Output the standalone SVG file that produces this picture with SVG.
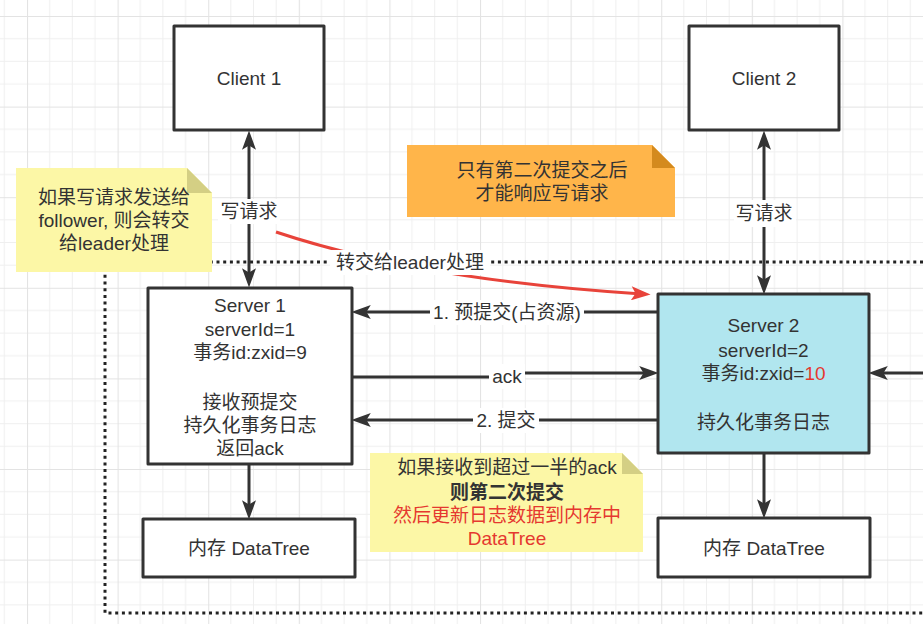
<svg xmlns="http://www.w3.org/2000/svg" width="923" height="624" viewBox="0 0 923 624">
  <style>
    text { font-family: "Liberation Sans", "Noto Sans CJK SC", sans-serif; font-size: 19px; fill: #333; text-anchor: middle; dominant-baseline: central; }
    .box { fill: #fff; stroke: #333; stroke-width: 3; stroke-linejoin: round; }
    .edge { fill: none; stroke: #333; stroke-width: 3; }
    .lblbg { fill: #fff; }
    .red { fill: #e5382f; }
    .note-y { fill: #fcf7a6; }
    .fold-y { fill: #d4cf84; }
    .note-o { fill: #ffb54a; }
    .fold-o { fill: #d48a1e; }
  </style>
  <defs>
    <pattern id="grid" patternUnits="userSpaceOnUse" x="27" y="16" width="90.6" height="90.6">
      <path d="M22.65,0V90.6M45.3,0V90.6M67.95,0V90.6M0,22.65H90.6M0,45.3H90.6M0,67.95H90.6" stroke="#efefef" stroke-width="1" fill="none"/>
      <path d="M0.5,0V90.6M0,0.5H90.6" stroke="#e3e3e3" stroke-width="1.2" fill="none"/>
    </pattern>
    <marker id="arr" markerUnits="userSpaceOnUse" markerWidth="20" markerHeight="14" refX="10" refY="6.5" orient="auto-start-reverse" viewBox="0 0 18 13">
      <path d="M0,0 L18,6.5 L0,13 L4,6.5 Z" fill="#333"/>
    </marker>
    <marker id="arr-red" markerUnits="userSpaceOnUse" markerWidth="20" markerHeight="14" refX="10" refY="6.5" orient="auto" viewBox="0 0 18 13">
      <path d="M0,0 L18,6.5 L0,13 L4,6.5 Z" fill="#e8433a"/>
    </marker>
  </defs>

  <rect x="0" y="0" width="923" height="624" fill="#fff"/>
  <rect x="0" y="0" width="923" height="624" fill="url(#grid)"/>

  <g id="container">
    <path d="M923,262 H105 V613 H923" fill="none" stroke="#222" stroke-width="3" stroke-dasharray="3 3.7"/>
  </g>

  <g id="connectors">
    <path class="edge" d="M249,139 V279" marker-start="url(#arr)" marker-end="url(#arr)"/>
    <rect class="lblbg" x="218" y="199" width="62" height="25"/>
    <text x="249" y="211">写请求</text>

    <path class="edge" d="M764,139 V286" marker-start="url(#arr)" marker-end="url(#arr)"/>
    <rect class="lblbg" x="734" y="200" width="62" height="27"/>
    <text x="764" y="213">写请求</text>

    <path class="edge" d="M249,464 V511" marker-end="url(#arr)"/>
    <path class="edge" d="M764,453 V510" marker-end="url(#arr)"/>
    <path class="edge" d="M923,373 H877" marker-end="url(#arr)"/>

    <path class="edge" d="M658,312 H360" marker-end="url(#arr)"/>
    <rect class="lblbg" x="430" y="300" width="154" height="25"/>
    <text x="507" y="312">1. 预提交(占资源)</text>

    <path class="edge" d="M352,377 H507 V373 H650" marker-end="url(#arr)"/>
    <rect class="lblbg" x="489" y="364" width="36" height="25"/>
    <text x="507" y="376">ack</text>

    <path class="edge" d="M658,420 H360" marker-end="url(#arr)"/>
    <rect class="lblbg" x="473" y="408" width="66" height="25"/>
    <text x="506" y="420">2. 提交</text>

    <path d="M276,232 Q420,280 642,294" fill="none" stroke="#e8433a" stroke-width="3" marker-end="url(#arr-red)"/>
    <rect class="lblbg" x="330" y="250" width="160" height="25"/>
    <text x="410" y="262">转交给leader处理</text>
  </g>

  <g id="client1">
    <rect class="box" x="174" y="26" width="150" height="104"/>
    <text x="249" y="78">Client 1</text>
  </g>

  <g id="client2">
    <rect class="box" x="689" y="26" width="150" height="104"/>
    <text x="764" y="78">Client 2</text>
  </g>

  <g id="server1">
    <rect class="box" x="148" y="288" width="204" height="176"/>
    <text x="250" y="305">Server 1</text>
    <text x="250" y="329">serverId=1</text>
    <text x="250" y="352">事务id:zxid=9</text>
    <text x="250" y="402">接收预提交</text>
    <text x="250" y="425">持久化事务日志</text>
    <text x="250" y="448">返回ack</text>
  </g>

  <g id="server2">
    <rect class="box" x="658" y="294" width="211" height="159" style="fill:#b1e6ef"/>
    <text x="763.5" y="325">Server 2</text>
    <text x="763.5" y="350">serverId=2</text>
    <text x="763.5" y="373">事务id:zxid=<tspan class="red">10</tspan></text>
    <text x="763.5" y="422">持久化事务日志</text>
  </g>

  <g id="memory1">
    <rect class="box" x="143" y="519" width="212" height="58"/>
    <text x="249" y="548">内存 DataTree</text>
  </g>

  <g id="memory2">
    <rect class="box" x="658" y="518" width="212" height="59"/>
    <text x="764" y="548">内存 DataTree</text>
  </g>

  <g id="note-follower">
    <path class="note-y" d="M16,168 H187 L212,193 V272 H16 Z"/>
    <path class="fold-y" d="M187,168 L212,193 H187 Z"/>
    <text x="114" y="197">如果写请求发送给</text>
    <text x="114" y="220">follower, 则会转交</text>
    <text x="114" y="243">给leader处理</text>
  </g>

  <g id="note-second-commit">
    <path class="note-o" d="M407,145 H652 L675,168 V217 H407 Z"/>
    <path class="fold-o" d="M652,145 L675,168 H652 Z"/>
    <text x="542" y="170">只有第二次提交之后</text>
    <text x="542" y="193">才能响应写请求</text>
  </g>

  <g id="note-half-ack">
    <path class="note-y" d="M370,453 H622 L643,474 V552 H370 Z"/>
    <path class="fold-y" d="M622,453 L643,474 H622 Z"/>
    <text x="507" y="467">如果接收到超过一半的ack</text>
    <text x="507" y="492" style="font-weight:bold">则第二次提交</text>
    <text x="507" y="515" class="red">然后更新日志数据到内存中</text>
    <text x="507" y="538" class="red">DataTree</text>
  </g>
</svg>
